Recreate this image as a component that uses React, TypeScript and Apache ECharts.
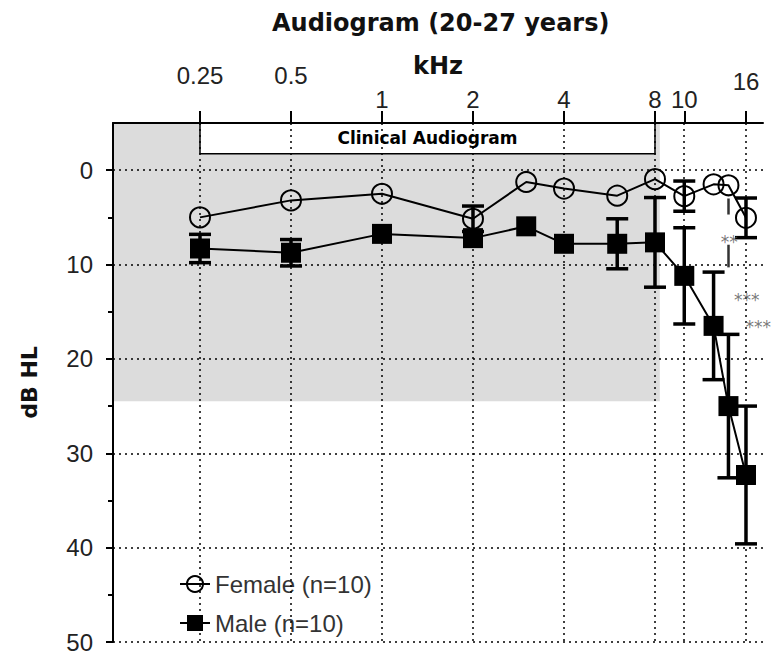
import React, { useEffect, useRef } from "react";
import * as echarts from "echarts";

// ---- data ----
const FREQS = [0.25, 0.5, 1, 2, 3, 4, 6, 8, 10, 12.5, 14, 16];
const FEMALE_MEAN = [5.0, 3.2, 2.5, 5.15, 1.25, 1.95, 2.7, 0.95, 2.75, 1.5, 1.6, 5.05];
const FEMALE_SEM = [0, 0, 0, 1.35, 0, 0, 0, 0, 1.6, 0, 0, 2.1];
const MALE_MEAN = [8.3, 8.75, 6.75, 7.2, 5.95, 7.8, 7.8, 7.65, 11.2, 16.5, 25.0, 32.3];
const MALE_SEM = [1.5, 1.4, 0, 0, 0, 0, 2.65, 4.75, 5.1, 5.7, 7.6, 7.3];

const TICK_FREQS = [0.25, 0.5, 1, 2, 4, 8, 10, 16];
const TICK_LABELS = ["0.25", "0.5", "1", "2", "4", "8", "10", "16"];
const LOW_ROW = [1, 2, 4, 8, 10];
const HIGH_ROW_A = [0.25, 0.5];
const HIGH_ROW_B = [16];
const DB_TICKS = [0, 10, 20, 30, 40, 50];
const DB_MINOR = [5, 15, 25, 35, 45];

const CLINICAL_RANGE = [0.25, 8];
const CLINICAL_BOX_BOTTOM = -1.75;
const NORMAL_LIMIT_DB = 24.5;
const NORMAL_LIMIT_FREQ = 8.3;

const SIG_LABELS = ["**", "***", "***"];
const SIG_FREQS = [13.2, 14.6, 15.95];
const SIG_DB = [7.6, 13.8, 16.6];
const SIG_LINE_FREQ = 14;
const SIG_LINE_SEGMENTS = [
  [3.0, 4.7],
  [7.9, 10.3],
];

const L2 = (f: number) => Math.log2(f);
const X_MIN = -2.956;
const X_MAX = 4.187;
const Y_MIN = -5;
const Y_MAX = 50;

const labelFmt = (v: number) => {
  const i = TICK_FREQS.findIndex((f) => Math.abs(L2(f) - v) < 1e-6);
  return i >= 0 ? TICK_LABELS[i] : "";
};

const NUM_FONT = "Liberation Sans";
const BOLD_FONT = "DejaVu Sans";

const dotted = { color: "#000", width: 1.5, type: [2, 4] as number[] };

export default function App() {
  const ref = useRef<HTMLDivElement>(null);
  useEffect(() => {
    if (!ref.current) return;
    const chart = echarts.init(ref.current, undefined, { renderer: "svg" });

    const femaleData = FREQS.map((f, i) => [L2(f), FEMALE_MEAN[i]]);
    const maleData = FREQS.map((f, i) => [L2(f), MALE_MEAN[i]]);
    const femaleErr = FREQS.map((f, i) => [L2(f), FEMALE_MEAN[i], FEMALE_SEM[i]]);
    const maleErr = FREQS.map((f, i) => [L2(f), MALE_MEAN[i], MALE_SEM[i]]);

    const errRender = (params: any, api: any) => {
      const x = api.value(0);
      const y = api.value(1);
      const e = api.value(2);
      if (!(e > 0)) return null;
      const top = api.coord([x, y - e]);
      const bot = api.coord([x, y + e]);
      const hw = 11;
      const style = { stroke: "#000", lineWidth: 3.5 };
      return {
        type: "group",
        children: [
          { type: "line", shape: { x1: top[0], y1: top[1], x2: bot[0], y2: bot[1] }, style },
          { type: "line", shape: { x1: top[0] - hw, y1: top[1], x2: top[0] + hw, y2: top[1] }, style },
          { type: "line", shape: { x1: bot[0] - hw, y1: bot[1], x2: bot[0] + hw, y2: bot[1] }, style },
        ],
      };
    };

    const baseX = {
      type: "value",
      position: "top",
      min: X_MIN,
      max: X_MAX,
      z: 10,
      splitLine: { show: false },
      axisLine: { show: false, onZero: false },
      axisTick: { show: false },
    };

    const option: any = {
      animation: false,
      backgroundColor: "#fff",
      title: {
        text: "Audiogram (20-27 years)",
        left: 267,
        top: 6,
        textStyle: { fontFamily: BOLD_FONT, fontWeight: "bold", fontSize: 24, color: "#111" },
      },
      legend: {
        data: ["Female (n=10)", "Male (n=10)"],
        orient: "vertical",
        left: 174,
        top: 567,
        itemWidth: 30,
        itemHeight: 20,
        itemGap: 15,
        itemTextGap: 19,
        textStyle: { fontFamily: NUM_FONT, fontSize: 24, color: "#333" },
      },
      grid: { left: 113, right: 10, top: 123, bottom: 14, containLabel: false },
      xAxis: [
        {
          ...baseX,
          name: "kHz",
          nameLocation: "middle",
          nameGap: 45,
          nameTextStyle: { fontFamily: BOLD_FONT, fontWeight: "bold", fontSize: 24, color: "#111" },
          axisLine: { show: true, onZero: false, lineStyle: { color: "#000", width: 2 } },
          axisTick: {
            show: true,
            inside: false,
            length: 12,
            customValues: TICK_FREQS.map(L2),
            lineStyle: { color: "#000", width: 2 },
          },
          axisLabel: {
            customValues: LOW_ROW.map(L2),
            margin: 12,
            formatter: labelFmt,
            fontFamily: NUM_FONT,
            fontSize: 24,
            color: "#222",
          },
        },
        {
          ...baseX,
          axisLabel: {
            customValues: HIGH_ROW_A.map(L2),
            margin: 36,
            formatter: labelFmt,
            fontFamily: NUM_FONT,
            fontSize: 24,
            color: "#222",
          },
        },
        {
          ...baseX,
          axisLabel: {
            customValues: HIGH_ROW_B.map(L2),
            margin: 30,
            formatter: labelFmt,
            fontFamily: NUM_FONT,
            fontSize: 24,
            color: "#222",
          },
        },
      ],
      yAxis: [
        {
          type: "value",
          min: Y_MIN,
          max: Y_MAX,
          inverse: true,
          position: "left",
          z: 10,
          name: "dB HL",
          nameLocation: "middle",
          nameGap: 73,
          nameTextStyle: { fontFamily: BOLD_FONT, fontWeight: "bold", fontSize: 22, color: "#111" },
          splitLine: { show: false },
          axisLine: { show: true, onZero: false, lineStyle: { color: "#000", width: 2 } },
          axisTick: {
            show: true,
            length: 7,
            customValues: DB_TICKS,
            lineStyle: { color: "#000", width: 2 },
          },
          axisLabel: {
            customValues: DB_TICKS,
            margin: 20,
            fontFamily: NUM_FONT,
            fontSize: 24,
            color: "#222",
          },
        },
        {
          type: "value",
          min: Y_MIN,
          max: Y_MAX,
          inverse: true,
          position: "left",
          z: 10,
          splitLine: { show: false },
          axisLine: { show: false, onZero: false },
          axisLabel: { show: false },
          axisTick: {
            show: true,
            length: 5,
            customValues: DB_MINOR,
            lineStyle: { color: "#000", width: 2 },
          },
        },
      ],
      series: [
        {
          name: "bg",
          type: "line",
          data: [],
          z: 1,
          silent: true,
          markArea: {
            silent: true,
            itemStyle: { color: "#dcdcdc" },
            data: [[{ xAxis: X_MIN, yAxis: Y_MIN }, { xAxis: L2(NORMAL_LIMIT_FREQ), yAxis: NORMAL_LIMIT_DB }]],
          },
        },
        {
          name: "gridlines",
          type: "line",
          data: [],
          z: 2,
          silent: true,
          markLine: {
            silent: true,
            symbol: "none",
            label: { show: false },
            lineStyle: dotted,
            data: [
              ...TICK_FREQS.map((f) => ({ xAxis: L2(f) })),
              ...DB_TICKS.map((d) => ({ yAxis: d })),
            ],
          },
        },
        {
          name: "box",
          type: "line",
          data: [],
          z: 3,
          silent: true,
          markArea: {
            silent: true,
            itemStyle: { color: "#fff", borderColor: "#000", borderWidth: 1.5 },
            label: {
              show: true,
              position: "inside",
              fontFamily: BOLD_FONT,
              fontWeight: "bold",
              fontSize: 17,
              color: "#000",
            },
            data: [
              [
                { name: "Clinical Audiogram", xAxis: L2(CLINICAL_RANGE[0]), yAxis: Y_MIN },
                { xAxis: L2(CLINICAL_RANGE[1]), yAxis: CLINICAL_BOX_BOTTOM },
              ],
            ],
          },
        },
        {
          name: "femaleErr",
          type: "custom",
          z: 4,
          silent: true,
          renderItem: errRender,
          encode: { x: 0, y: 1 },
          data: femaleErr,
        },
        {
          name: "maleErr",
          type: "custom",
          z: 4,
          silent: true,
          renderItem: errRender,
          encode: { x: 0, y: 1 },
          data: maleErr,
        },
        {
          name: "Female (n=10)",
          type: "line",
          z: 5,
          data: femaleData,
          symbol: "circle",
          symbolSize: 20,
          itemStyle: { color: "rgba(0,0,0,0)", borderColor: "#000", borderWidth: 2 },
          lineStyle: { color: "#000", width: 2 },
        },
        {
          name: "Male (n=10)",
          type: "line",
          z: 5,
          data: maleData,
          symbol: "rect",
          symbolSize: 20,
          itemStyle: { color: "#000" },
          lineStyle: { color: "#000", width: 2 },
        },
        {
          name: "sig",
          type: "scatter",
          z: 6,
          silent: true,
          symbolSize: 0,
          clip: false,
          data: SIG_FREQS.map((f, i) => ({ value: [L2(f), SIG_DB[i]], name: SIG_LABELS[i] })),
          label: {
            show: true,
            position: "right",
            distance: 0,
            formatter: (p: any) => p.name,
            fontFamily: BOLD_FONT,
            fontSize: 17,
            color: "#555",
          },
          markLine: {
            silent: true,
            symbol: "none",
            label: { show: false },
            lineStyle: { color: "#333", width: 2.5, type: "solid" },
            data: SIG_LINE_SEGMENTS.map((s) => [
              { coord: [L2(SIG_LINE_FREQ), s[0]] },
              { coord: [L2(SIG_LINE_FREQ), s[1]] },
            ]),
          },
        },
      ],
    };

    chart.setOption(option);
    return () => chart.dispose();
  }, []);

  return (
    <div
      ref={ref}
      style={{ position: "fixed", left: 0, top: 0, width: 773, height: 656 }}
    />
  );
}
